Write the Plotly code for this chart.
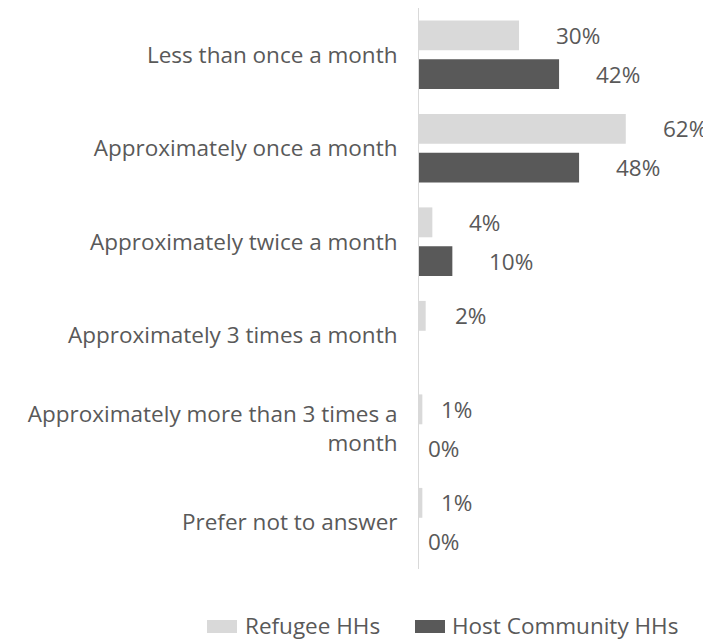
import plotly.graph_objects as go

categories = [
    "Less than once a month",
    "Approximately once a month",
    "Approximately twice a month",
    "Approximately 3 times a month",
    "Approximately more than 3 times a<br>month",
    "Prefer not to answer",
]
series_names = ["Refugee HHs", "Host Community HHs"]
refugee = [30, 62, 4, 2, 1, 1]
host = [42, 48, 10, None, 0, 0]

colors = ["#d9d9d9", "#595959"]
text_color = "#595959"
FONT = "Open Sans"
FS = 22.5

# page body has an 8px default margin; work in window pixels and shift
OFF = 8
W, H = 711 - OFF, 641 - OFF
L, T, R = 419 - OFF, 0, 0
B = H - (569 - OFF)  # bottom of plot area at window y=569
pw, ph = W - L - R, H - T - B
px_per_unit = 3.335
xmax = pw / px_per_unit

fig = go.Figure()
for name, vals, col in zip(series_names, [refugee, host], colors):
    fig.add_trace(go.Bar(
        y=categories, x=vals, orientation="h", name=name,
        marker=dict(color=col, line=dict(width=0)),
        showlegend=False,
    ))

# data labels
annotations = []
for k, vals in enumerate([refugee, host]):
    for c, v in zip(categories, vals):
        if v is None:
            continue
        annotations.append(dict(
            x=v, y=c, xref="x", yref="y", text=f"{v}%", showarrow=False,
            xanchor="left", yanchor="middle",
            xshift=min(35, 7 + 10 * v), yshift=(19.5 if k == 0 else -19.5),
            font=dict(family=FONT, size=FS, color=text_color),
        ))

# custom legend (window pixel -> paper)
def pxx(x):
    return (x - OFF - L) / pw

def pxy(y):
    return (H - B - (y - OFF)) / ph

legend_items = [(207, 243), (415, 450)]
shapes = []
for (sx, tx), name, col in zip(legend_items, series_names, colors):
    shapes.append(dict(type="rect", xref="paper", yref="paper",
                       x0=pxx(sx), x1=pxx(sx + 30), y0=pxy(633), y1=pxy(620),
                       fillcolor=col, line=dict(width=0)))
    annotations.append(dict(x=pxx(tx), y=pxy(625), xref="paper", yref="paper",
                            text=name, showarrow=False, xanchor="left", yanchor="middle",
                            font=dict(family=FONT, size=FS, color=text_color)))

fig.update_layout(
    width=W, height=H,
    margin=dict(l=L, r=R, t=T, b=B, autoexpand=False),
    paper_bgcolor="white", plot_bgcolor="white",
    barmode="group", bargap=0.17, bargroupgap=0.23,
    font=dict(family=FONT, size=FS, color=text_color),
    xaxis=dict(range=[0, xmax], visible=False, showgrid=False, zeroline=False),
    yaxis=dict(autorange="reversed", showline=True, linecolor="#d9d9d9", linewidth=1,
               ticks="", showgrid=False, zeroline=False,
               tickfont=dict(family=FONT, size=FS, color=text_color), ticklabelstandoff=16),
    annotations=annotations, shapes=shapes,
)

fig.write_html("out.html")
